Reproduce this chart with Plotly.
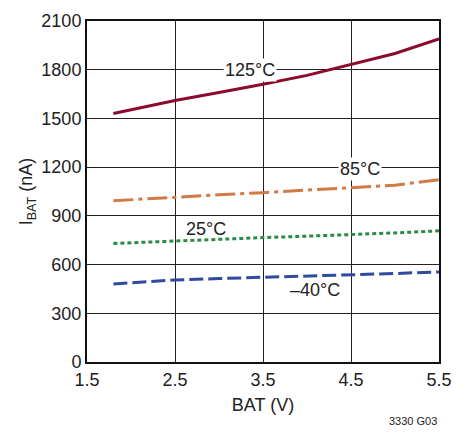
import plotly.graph_objects as go

# Battery supply current vs. BAT voltage at four temperatures
bat_v = [1.8, 2.5, 3.0, 3.5, 4.0, 4.5, 5.0, 5.5]
i_125c = [1530, 1610, 1660, 1710, 1765, 1832, 1900, 1990]
i_85c = [993, 1017, 1030, 1043, 1058, 1075, 1089, 1123]
i_25c = [730, 746, 756, 766, 775, 784, 795, 808]
i_m40c = [481, 505, 514, 521, 528, 534, 545, 555]

temp_labels = ["125°C", "85°C", "25°C", "–40°C"]
label_pos_x = [3.35, 4.6, 2.85, 4.09]
label_pos_y = [1800, 1190, 822, 443]
label_bg = ["white", "white", "rgba(0,0,0,0)", "rgba(0,0,0,0)"]

FONT = "Liberation Sans Narrow, Arial Narrow, Liberation Sans, sans-serif"

series = [
    (i_125c, "#8c0a2e", "solid"),
    (i_85c, "#d27a45", "20px,5px,4px,5px"),
    (i_25c, "#2a8a47", "4px,3px"),
    (i_m40c, "#2f4aa0", "14px,5px"),
]

fig = go.Figure()
for vals, color, dash in series:
    fig.add_trace(go.Scatter(
        x=bat_v, y=vals, mode="lines",
        line=dict(color=color, width=3, dash=dash),
        showlegend=False, hoverinfo="skip",
    ))

for txt, lx, ly, bg in zip(temp_labels, label_pos_x, label_pos_y, label_bg):
    fig.add_annotation(
        x=lx, y=ly, text=txt, showarrow=False,
        font=dict(family=FONT, size=18, color="#222"),
        bgcolor=bg, borderpad=1,
    )

fig.add_annotation(
    xref="paper", yref="paper", x=1.0, y=-0.15, xanchor="right", yanchor="top",
    text="3330 G03", showarrow=False,
    font=dict(family=FONT, size=11, color="#222"),
)

fig.update_xaxes(
    range=[1.5, 5.5], tick0=1.5, dtick=1,
    showgrid=True, gridcolor="#222", gridwidth=1,
    showline=True, linecolor="#111", linewidth=2, mirror=True,
    ticks="", zeroline=False,
    tickfont=dict(family=FONT, size=18, color="#222"),
    title=dict(text="BAT (V)", font=dict(family=FONT, size=18, color="#222"), standoff=10),
)
fig.update_yaxes(
    range=[0, 2100], tick0=0, dtick=300,
    showgrid=True, gridcolor="#222", gridwidth=1,
    showline=True, linecolor="#111", linewidth=2, mirror=True,
    ticks="", zeroline=False,
    tickfont=dict(family=FONT, size=18, color="#222"),
    title=dict(text="I<sub>BAT</sub> (nA)", font=dict(family=FONT, size=18, color="#222"), standoff=4),
)

fig.update_layout(
    width=467, height=435,
    margin=dict(l=87, r=28, t=11, b=73),
    paper_bgcolor="white", plot_bgcolor="white",
)

fig.write_html("out.html")
